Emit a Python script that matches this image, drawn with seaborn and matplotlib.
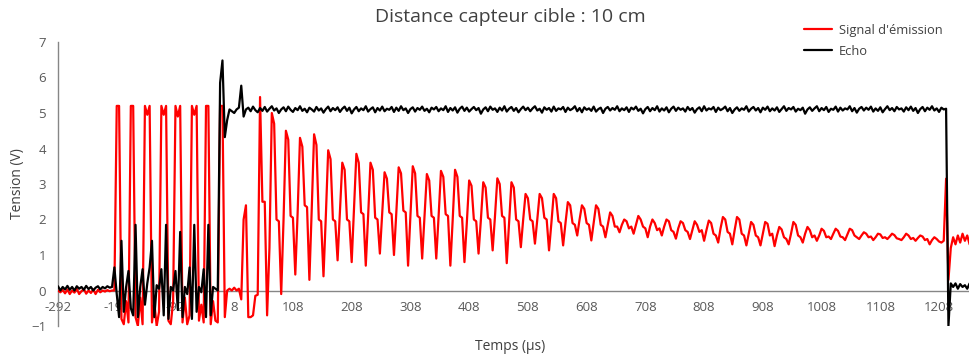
import numpy as np
import pandas as pd
import matplotlib
matplotlib.use("Agg")
import matplotlib.pyplot as plt
import seaborn as sns

# oscilloscope samples: one every 4 µs, first one at -292 µs
t_start = -292
t_step = 4

# Signal d'émission (red), volts
emission = [
    # before the burst
    0.0, -0.05, 0.02, -0.08, 0.03, -0.1, 0.0, -0.06, 0.05, -0.1, -0.02, 0.04, -0.09,
    0.0, -0.07, 0.03, -0.1, 0.02, -0.05, 0.0, -0.03, 0.01, -0.02, 0.0, 0.0,
    # 40 kHz burst
    5.2, 5.2, -0.8, -0.95, -0.3, -0.9,
    5.2, 5.2, -0.75, -1.0, -0.2, -0.95,
    5.2, 4.95, 5.2, -0.9, -0.35, -1.0, -0.6,
    5.2, 4.95, 5.2, -0.85, -0.95, -0.3,
    5.2, 4.9, 5.2, -0.9, -0.2, -0.95, -0.7,
    5.2, 4.95, 5.2, -0.85, -0.4, -0.9,
    5.2, 5.2, -0.95, -0.3, -0.85, -0.9,
    5.2, 5.2, -0.75,
    0.0, 0.05, 0.0, 0.08, 0.0, 0.05,
    -0.25, 2.0, 2.4, -0.75, -0.75, -0.7, -0.15, -0.12, 5.45, 2.5, 2.5,
    # ringing of the transducer
    -0.7, 1.2, 5.0, 4.7, 2.0, 1.95,
    -0.1, 2.0, 4.5, 4.25, 2.1, 2.05,
    0.45, 2.2, 4.3, 4.05, 2.4, 2.35,
    0.3, 2.3, 4.4, 4.1, 2.0, 1.95,
    0.4, 2.1, 3.95, 3.7, 2.0, 1.95,
    0.85, 2.2, 3.6, 3.4, 2.0, 1.95,
    0.8, 2.3, 3.85, 3.6, 2.2, 2.15,
    0.7, 2.1, 3.6, 3.4, 2.05, 2.0,
    1.04, 2.2, 3.33, 3.15, 2.2, 2.15,
    1.0, 2.2, 3.47, 3.3, 2.25, 2.2,
    0.7, 2.1, 3.5, 3.3, 2.1, 2.05,
    0.9, 2.1, 3.28, 3.1, 2.1, 2.05,
    0.9, 2.1, 3.37, 3.2, 2.15, 2.1,
    0.7, 2.0, 3.4, 3.2, 2.1, 2.05,
    0.8, 1.9, 3.1, 2.95, 2.0, 1.95,
    1.04, 2.0, 3.05, 2.9, 2.05, 2.0,
    1.13, 2.1, 3.16, 3.0, 2.1, 2.05,
    0.77, 1.9, 3.05, 2.9, 2.0, 1.95,
    1.22, 2.0, 2.72, 2.6, 2.0, 1.95,
    1.32, 2.0, 2.72, 2.6, 2.05, 2.0,
    1.13, 1.9, 2.72, 2.6, 1.95, 1.9,
    1.27, 1.9, 2.49, 2.4, 1.9, 1.85,
    1.55, 2.0, 2.4, 2.3, 1.9, 1.85,
    1.41, 1.9, 2.4, 2.3, 1.85, 1.8,
    1.5, 1.85, 2.2, 2.1, 1.8, 1.8,
    1.64, 1.85, 2.0, 1.95, 1.75, 1.8,
    1.6, 1.85, 2.1, 2.0, 1.8, 1.75,
    1.5, 1.8, 2.0, 1.9, 1.7, 1.75,
    1.55, 1.8, 2.0, 1.95, 1.7, 1.65,
    1.46, 1.75, 1.95, 1.9, 1.7, 1.65,
    1.45, 1.7, 1.95, 1.85, 1.65, 1.7,
    1.4, 1.7, 1.97, 1.9, 1.6, 1.55,
    1.35, 1.75, 2.07, 2.0, 1.65, 1.6,
    1.3, 1.7, 2.07, 2.0, 1.6, 1.55,
    1.27, 1.6, 1.93, 1.85, 1.55, 1.5,
    1.27, 1.6, 1.93, 1.88, 1.55, 1.6,
    1.25, 1.55, 1.79, 1.72, 1.5, 1.45,
    1.3, 1.6, 1.93, 1.85, 1.55, 1.5,
    1.35, 1.6, 1.79, 1.7, 1.5, 1.55,
    1.4, 1.55, 1.74, 1.68, 1.5, 1.52,
    1.45, 1.6, 1.74, 1.68, 1.52, 1.5,
    1.42, 1.58, 1.74, 1.7, 1.55, 1.5,
    1.45, 1.55, 1.64, 1.6, 1.5, 1.52,
    1.42, 1.5, 1.6, 1.58, 1.48, 1.5,
    1.45, 1.52, 1.6, 1.56, 1.47, 1.45,
    1.42, 1.5, 1.6, 1.55, 1.45, 1.48,
    1.4, 1.48, 1.55, 1.52, 1.42, 1.45,
    1.3, 1.42, 1.5, 1.45, 1.38, 1.35,
    # next trigger
    1.4, 3.15, 0.3, 1.2, 1.5, 1.3, 1.55, 1.35, 1.6, 1.4, 1.55, 1.3,
]

# Echo (black), volts
echo = [
    0.12, 0.0, 0.1, 0.03, 0.13, 0.02, 0.1, 0.0, 0.12, 0.05, 0.1, 0.02,
    0.13, 0.04, 0.1, 0.0, 0.08, 0.12, 0.03, 0.1, 0.06, 0.12, 0.08, 0.1,
    # crosstalk during the burst
    0.65, -0.1, -0.75, 1.4, -0.6, 0.1, 0.55, -0.5, -0.7, 1.85,
    -0.75, 0.1, 0.6, -0.4, 0.2, 0.65, 1.4, -0.75, 0.15, 0.05,
    0.6, -0.7, 1.85, -0.8, 0.1, 0.0, 0.55, -0.55, 1.65, -0.75,
    0.1, -0.1, 0.65, -0.8, 1.85, -0.6, 0.1, -0.05, 0.6, -0.75,
    1.85, -0.7, 0.1, 0.05, 0.0,
    # echo output goes high
    5.85, 6.48, 4.32, 4.8, 5.1, 5.05, 5.0, 5.1, 5.15, 5.77, 4.9,
    5.1, 5.15, 5.05, 5.18, 5.08, 5.02, 5.14, 5.06, 5.17, 5.04, 5.12, 5.19, 5.07, 5.13, 5.0, 5.1, 5.16, 5.05, 5.18, 5.09,
    5.03, 5.14, 5.08, 5.19, 5.06, 5.12, 5.02, 5.15, 5.1, 5.04, 5.17, 5.07, 5.13, 5.01, 5.11, 5.18, 5.05, 5.14, 5.08, 5.16,
    5.03, 5.12, 5.18, 5.06, 5.15, 4.99, 5.1, 5.17, 5.05, 5.13, 5.08, 5.19, 5.04, 5.11, 5.16, 5.02, 5.14, 5.07, 5.18, 5.05,
    5.12, 5.09, 5.17, 5.03, 5.15, 5.06, 5.19, 5.08, 5.13, 5.0, 5.11, 5.16, 5.04, 5.14, 5.09, 5.18, 5.06, 5.12, 5.02, 5.15,
    5.1, 5.17, 5.05, 5.13, 5.08, 5.19, 5.03, 5.14, 5.07, 5.16, 5.01, 5.12, 5.18, 5.06, 5.15, 5.04, 5.11, 5.17, 5.08, 5.14,
    4.98, 5.1, 5.16, 5.05, 5.18, 5.09, 5.13, 5.03, 5.15, 5.07, 5.19, 5.04, 5.12, 5.17, 5.06, 5.14, 5.02, 5.11, 5.18, 5.08,
    5.15, 5.05, 5.13, 5.19, 5.07, 5.12, 5.01, 5.16, 5.09, 5.14, 5.04, 5.18, 5.06, 5.13, 5.1, 5.17, 5.03, 5.15, 5.08, 5.12,
    5.19, 5.05, 5.14, 5.02, 5.16, 5.09, 5.13, 5.06, 5.18, 5.04, 5.11, 5.15, 5.0, 5.12, 5.17, 5.07, 5.14, 5.09, 5.19, 5.05,
    5.13, 5.08, 5.16, 5.03, 5.15, 5.1, 5.18, 5.06, 5.12, 4.99, 5.11, 5.17, 5.05, 5.14, 5.08, 5.19, 5.04, 5.13, 5.07, 5.16,
    5.02, 5.12, 5.18, 5.06, 5.15, 5.09, 5.13, 5.04, 5.17, 5.08, 5.14, 5.01, 5.11, 5.16, 5.05, 5.19, 5.07, 5.13, 5.1, 5.17,
    5.03, 5.15, 5.08, 5.12, 5.18, 5.05, 5.14, 5.0, 5.1, 5.16, 5.06, 5.13, 5.09, 5.19, 5.04, 5.12, 5.17, 5.07, 5.14, 5.02,
    5.15, 5.09, 5.18, 5.05, 5.13, 5.07, 5.16, 5.03, 5.11, 5.19, 5.06, 5.14, 5.1, 5.17, 5.04, 5.12, 5.08, 5.15, 4.98, 5.1,
    5.16, 5.06, 5.13, 5.19, 5.05, 5.14, 5.08, 5.17, 5.03, 5.12, 5.09, 5.18, 5.04, 5.15, 5.07, 5.13, 5.1, 5.19, 5.05, 5.14,
    5.01, 5.12, 5.17, 5.07, 5.15, 5.09, 5.18, 5.04, 5.13, 5.06, 5.16, 5.02, 5.11, 5.19, 5.08, 5.14, 5.05, 5.17, 5.1, 5.13,
    5.04, 5.16, 5.08, 5.18, 5.06, 5.14, 5.0, 5.11, 5.17, 5.05, 5.15, 5.09, 5.19, 5.07, 5.13, 5.03, 5.15, 5.1, 5.12,
    # falls back at the next trigger
    -1.0, 0.2, 0.1, 0.2, 0.05, 0.18, 0.1, 0.15, 0.05, 0.2,
]

x_ticks = [-292, -192, -92, 8, 108, 208, 308, 408, 508, 608, 708, 808, 908, 1008, 1108, 1208]
y_ticks = [-1, 0, 1, 2, 3, 4, 5, 6, 7]

t_em = t_start + t_step * np.arange(len(emission))
t_ec = t_start + t_step * np.arange(len(echo))
df = pd.DataFrame({
    "t": np.concatenate([t_em, t_ec]),
    "v": emission + echo,
    "serie": ["Signal d'émission"] * len(emission) + ["Echo"] * len(echo),
})

sns.set_style("white")
plt.rcParams["font.family"] = ["Open Sans", "DejaVu Sans"]

txt = "#595959"
axis_col = "#868686"

fig = plt.figure(figsize=(9.69, 3.58), dpi=100)
ax = fig.add_axes([58 / 969, 1 - 326 / 358, 1 - 58 / 969, 284 / 358])

sns.lineplot(data=df, x="t", y="v", hue="serie",
             palette={"Signal d'émission": "#ff0000", "Echo": "#000000"},
             estimator=None, sort=False, linewidth=1.6, zorder=3, ax=ax)

ax.set_xlim(-292, 1259)
ax.set_ylim(-1, 7)
ax.set_xticks(x_ticks)
ax.set_xticklabels([str(v) for v in x_ticks])
ax.set_yticks(y_ticks)

for s in ["top", "right"]:
    ax.spines[s].set_visible(False)
ax.spines["bottom"].set_position(("data", 0))
for s in ["left", "bottom"]:
    ax.spines[s].set_color(axis_col)
    ax.spines[s].set_linewidth(1)

ax.tick_params(axis="both", direction="inout", length=7, width=1, color=axis_col,
               labelcolor=txt, labelsize=9.5)
ax.tick_params(axis="x", pad=4)
ax.tick_params(axis="y", pad=5)

ax.set_xlabel("Temps (µs)", fontsize=10, color="#404040")
ax.xaxis.set_label_coords(0.496, -0.045)
ax.set_ylabel("Tension (V)", fontsize=10, color="#404040")
ax.yaxis.set_label_coords(-0.036, 0.5)

fig.text(510 / 969, 1 - 17 / 358, "Distance capteur cible : 10 cm",
         ha="center", va="center", fontsize=14, color="#404040")

sns.move_legend(ax, "upper left", bbox_to_anchor=(0.806, 1.105), frameon=False,
                title=None, fontsize=9.3, handlelength=2.2, labelspacing=0.6,
                handletextpad=0.5, labelcolor="#404040")

fig.savefig("out.png", dpi=100)
